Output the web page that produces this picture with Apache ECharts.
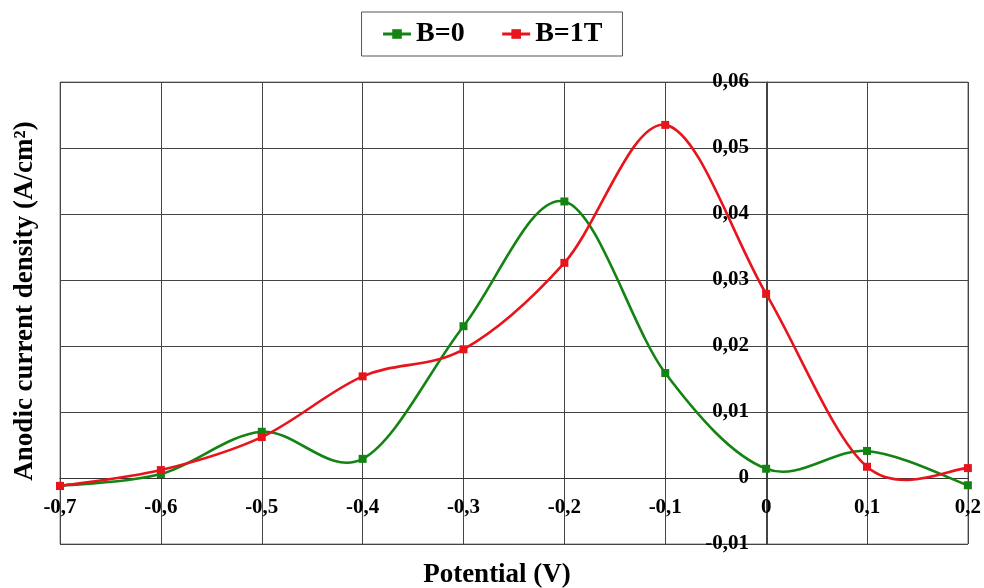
<!DOCTYPE html>
<html>
<head>
<meta charset="utf-8">
<script src="https://cdn.jsdelivr.net/npm/echarts@6/dist/echarts.min.js"></script>
<style>
html,body{margin:0;padding:0;background:#fff;}
#main{width:984px;height:588px;}
</style>
</head>
<body>
<div id="main"></div>
<script>
// potential (V)
var potential = [-0.7, -0.6, -0.5, -0.4, -0.3, -0.2, -0.1, 0, 0.1, 0.2];
// anodic current density, B=0
var b0 = [-0.0012, 0.0006, 0.0070, 0.0029, 0.0230, 0.0419, 0.0159, 0.0014, 0.0041, -0.0011];
// anodic current density, B=1T
var b1 = [-0.0012, 0.0012, 0.0062, 0.0154, 0.0195, 0.0326, 0.0535, 0.0279, 0.0017, 0.0015];

var serif = 'Liberation Serif';
var green = '#138413';
var red = '#e8141c';

// grid box in px
var gLeft = 60, gRight = 15, gTop = 82, gBottom = 44;
var gW = 984 - gLeft - gRight, gH = 588 - gTop - gBottom;
var xMin = -0.7, xMax = 0.2, yMin = -0.01, yMax = 0.06;
// move axes so they cross at (0, 0) like the original
var xOffset = -Math.round(gH * (0 - yMin) / (yMax - yMin));
var yOffset = -Math.round(gW * (0 - xMin) / (xMax - xMin));

function pairs(ys) {
    var out = [];
    for (var i = 0; i < potential.length; i++) {
        out.push([potential[i], ys[i]]);
    }
    return out;
}

function comma(v, d) {
    if (Math.abs(v) < 1e-9) return '0';
    return v.toFixed(d).replace('.', ',');
}

// spreadsheet style smoothing (catmull-rom, 1/6) done in pixel space
function curve(ys, color) {
    return function (params, api) {
        var i = params.dataIndex;
        if (i >= potential.length - 1) return;
        var n = potential.length;
        var p = function (k) {
            k = Math.max(0, Math.min(n - 1, k));
            return api.coord([potential[k], ys[k]]);
        };
        var p0 = p(i - 1), p1 = p(i), p2 = p(i + 1), p3 = p(i + 2);
        return {
            type: 'bezierCurve',
            shape: {
                x1: p1[0], y1: p1[1],
                cpx1: p1[0] + (p2[0] - p0[0]) / 6, cpy1: p1[1] + (p2[1] - p0[1]) / 6,
                cpx2: p2[0] - (p3[0] - p1[0]) / 6, cpy2: p2[1] - (p3[1] - p1[1]) / 6,
                x2: p2[0], y2: p2[1]
            },
            style: {stroke: color, lineWidth: 2.6, fill: null}
        };
    };
}

var myChart = echarts.init(document.getElementById('main'));
var option = {
    animation: false,
    legend: {
        top: 12,
        left: 'center',
        padding: [8, 20],
        itemGap: 36,
        itemWidth: 28,
        itemHeight: 12,
        borderColor: '#555',
        borderWidth: 1,
        lineStyle: {opacity: 1, width: 3},
        textStyle: {fontFamily: serif, fontWeight: 'bold', fontSize: 28, color: '#000'},
        data: ['B=0', 'B=1T']
    },
    grid: {left: gLeft, right: gRight, top: gTop, bottom: gBottom, show: true, borderColor: '#888', borderWidth: 1},
    xAxis: {
        type: 'value',
        min: xMin,
        max: xMax,
        interval: 0.1,
        offset: xOffset,
        axisLine: {onZero: false, lineStyle: {color: '#333', width: 1}},
        axisTick: {show: false},
        axisLabel: {
            margin: 19,
            fontFamily: serif, fontWeight: 'bold', fontSize: 21, color: '#000',
            formatter: function (v) { return comma(v, 1); }
        },
        splitLine: {lineStyle: {color: '#444', width: 1}}
    },
    yAxis: {
        type: 'value',
        min: yMin,
        max: yMax,
        interval: 0.01,
        offset: yOffset,
        axisLine: {onZero: false, lineStyle: {color: '#444', width: 1}},
        axisTick: {show: false},
        axisLabel: {
            margin: 18,
            fontFamily: serif, fontWeight: 'bold', fontSize: 21, color: '#000',
            formatter: function (v) { return comma(v, 2); }
        },
        splitLine: {lineStyle: {color: '#444', width: 1}}
    },
    graphic: [
        {
            type: 'text', x: 497, y: 575,
            style: {text: 'Potential (V)', fontFamily: serif, fontWeight: 'bold', fontSize: 27,
                fill: '#000', align: 'center', verticalAlign: 'middle'}
        },
        {
            type: 'text', x: 25, y: 301, rotation: Math.PI / 2,
            style: {text: 'Anodic current density (A/cm²)', fontFamily: serif, fontWeight: 'bold', fontSize: 27,
                fill: '#000', align: 'center', verticalAlign: 'middle'}
        }
    ],
    series: [
        {
            name: 'B=0 curve',
            type: 'custom',
            renderItem: curve(b0, green),
            data: pairs(b0),
            silent: true
        },
        {
            name: 'B=1T curve',
            type: 'custom',
            renderItem: curve(b1, red),
            data: pairs(b1),
            silent: true
        },
        {
            name: 'B=0',
            type: 'line',
            data: pairs(b0),
            symbol: 'rect',
            symbolSize: 8,
            lineStyle: {color: green, width: 2.5, opacity: 0},
            itemStyle: {color: green}
        },
        {
            name: 'B=1T',
            type: 'line',
            data: pairs(b1),
            symbol: 'rect',
            symbolSize: 8,
            lineStyle: {color: red, width: 2.5, opacity: 0},
            itemStyle: {color: red}
        }
    ]
};
myChart.setOption(option);
</script>
</body>
</html>
